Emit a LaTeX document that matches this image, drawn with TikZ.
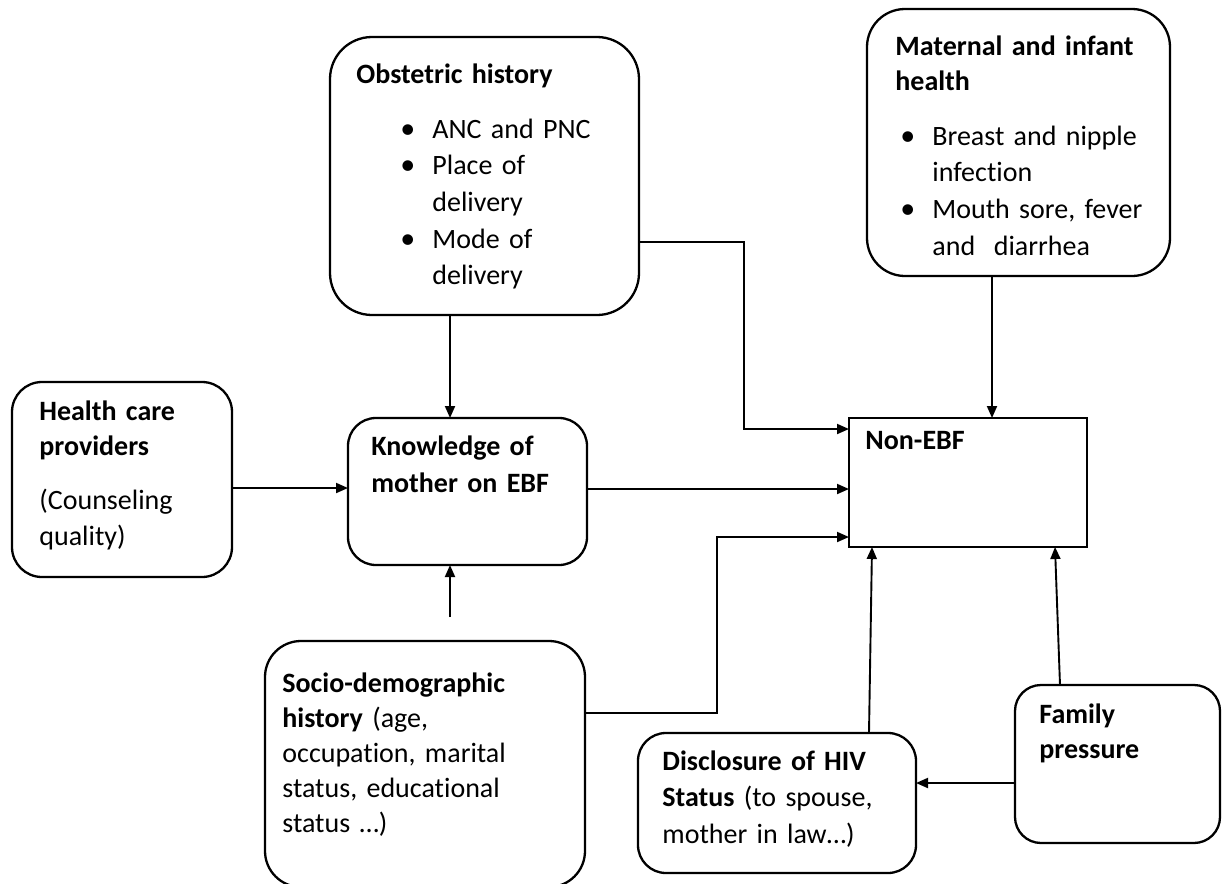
\documentclass[tikz,border=0pt]{standalone}
\usepackage{fontspec}
\setmainfont{Carlito}[Ligatures=CommonOff]
\usetikzlibrary{arrows.meta,fit}
\newcommand{\fsz}[1]{\fontsize{14pt}{#1}\selectfont}
\newcommand{\bul}{\leavevmode\llap{\makebox[16pt][l]{\fontsize{15pt}{15pt}\selectfont •}}}
\begin{document}
\begin{tikzpicture}[x=0.5pt,y=-0.5pt,
  box/.style={draw, line width=1.15pt, inner sep=0pt, outer sep=0pt},
  arr/.style={draw, line width=0.95pt, -{Triangle[length=6pt,width=5pt]}},
  txt/.style={inner sep=0pt, anchor=base west, align=left, text width=170pt}]
\useasboundingbox (0,0) rectangle (1222,884);
\fill[white] (0,0) rectangle (1222,884);
% boxes
\node[box, rounded corners=21pt, fit={(330,37) (639,315)}] (obst) {};
\node[box, rounded corners=19pt, fit={(867,9) (1170,276)}] (mat) {};
\node[box, rounded corners=15pt, fit={(12,382) (232,577)}] (hcp) {};
\node[box, rounded corners=14pt, fit={(348,418) (587,565)}] (know) {};
\node[box, fit={(849,418) (1087,547)}] (nonebf) {};
\node[box, rounded corners=18pt, fit={(265,641) (585,887)}] (socio) {};
\node[box, rounded corners=14pt, fit={(638,733) (916,873)}] (disc) {};
\node[box, rounded corners=13pt, fit={(1015,685) (1220,843)}] (fam) {};
% texts
\node[txt, font=\fsz{18pt}] (obstT) at (356,83) {\textbf{Obstetric history}};
\node[txt, font=\fsz{18.35pt}] (obstB) at (432,138) {\bul ANC and PNC\\ \bul Place of\\ delivery\\ \bul Mode of\\ delivery};
\node[txt, font=\fsz{17.5pt}] (matT) at (895,55) {\textbf{Maternal and infant}\\ \textbf{health}};
\node[txt, font=\fsz{18.35pt}] (matB) at (932,145) {\bul Breast and nipple\\ infection\\ \bul Mouth sore, fever\\ and~ diarrhea};
\node[txt, font=\fsz{17.5pt}] (hcpT) at (39,420) {\textbf{Health care}\\ \textbf{providers}};
\node[txt, font=\fsz{18pt}] (hcpB) at (39,509) {(Counseling\\ quality)};
\node[txt, font=\fsz{18.5pt}] (knowT) at (371,455) {\textbf{Knowledge of}\\ \textbf{mother on EBF}};
\node[txt, font=\fsz{18pt}] (nonT) at (865,449) {\textbf{Non-EBF}};
\node[txt, font=\fsz{17.5pt}] (socT) at (282,692) {\textbf{Socio-demographic}\\ \textbf{history} (age,\\ occupation, marital\\ status, educational\\ status …)};
\node[txt, font=\fsz{18.25pt}] (discT) at (662,770) {\textbf{Disclosure of HIV}\\ \textbf{Status} (to spouse,\\ mother in law…)};
\node[txt, font=\fsz{17.5pt}] (famT) at (1039,723) {\textbf{Family}\\ \textbf{pressure}};
% connectors
\coordinate (xa) at (450,0);
\draw[arr] (obst.south -| xa) -- (know.north -| xa);
\coordinate (ya) at (0,488);
\draw[arr] (hcp.east |- ya) -- (know.west |- ya);
\coordinate (sk) at (450,617);
\draw[arr] (sk) -- (know.south -| sk);
\coordinate (yb) at (0,489);
\draw[arr] (know.east |- yb) -- (nonebf.west |- yb);
\coordinate (o1) at (744,242);
\coordinate (o2) at (744,429);
\draw[arr] (obst.east |- o1) -- (o1) -- (o2) -- (nonebf.west |- o2);
\coordinate (xm) at (992,0);
\draw[arr] (mat.south -| xm) -- (nonebf.north -| xm);
\coordinate (s1) at (717,713);
\coordinate (s2) at (717,537);
\draw[arr] (socio.east |- s1) -- (s1) -- (s2) -- (nonebf.west |- s2);
\coordinate (d1) at (869,0);
\coordinate (d2) at (872,0);
\draw[arr] (disc.north -| d1) -- (nonebf.south -| d2);
\coordinate (f1) at (1060,0);
\coordinate (f2) at (1055,0);
\draw[arr] (fam.north -| f1) -- (nonebf.south -| f2);
\coordinate (yf) at (0,783);
\draw[arr] (fam.west |- yf) -- (disc.east |- yf);
\end{tikzpicture}
\end{document}
